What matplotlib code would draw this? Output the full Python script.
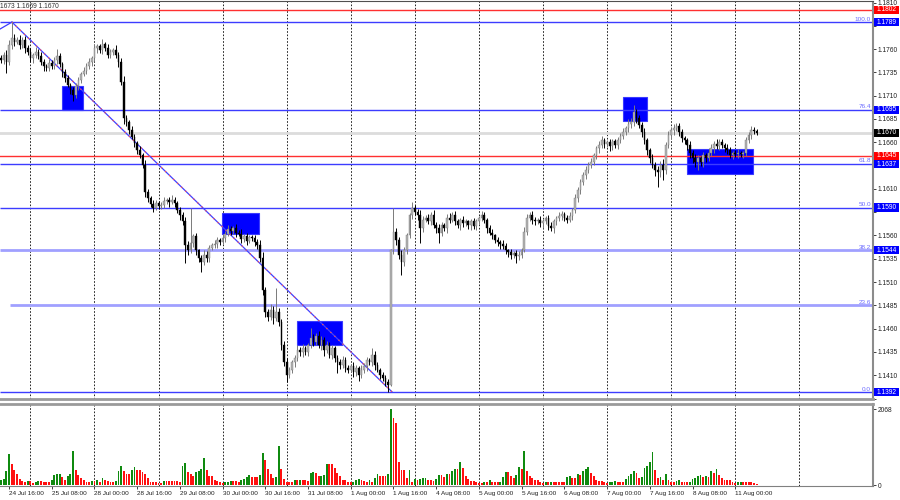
import matplotlib
matplotlib.use("Agg")
import matplotlib.pyplot as plt
import matplotlib.transforms as mtransforms
from matplotlib.patches import Rectangle
import numpy as np

plt.rcParams['font.family'] = ['Liberation Sans', 'DejaVu Sans']

# H1 bars, prices in pips above 1.1000 (24 Jul 13:00 .. 11 Aug 08:00)
first_open_pips = 750
close_pips = [
    748, 754, 746, 764, 772, 768, 770, 764, 770, 761, 757, 750, 754, 757, 753, 746, 742, 740, 745, 742,
    748, 753, 744, 735, 729, 722, 716, 711, 720, 727, 733, 737, 742, 746, 750, 761, 763, 759, 765, 761,
    754, 757, 759, 754, 746, 725, 686, 682, 673, 666, 659, 652, 646, 636, 607, 600, 594, 590, 595, 592,
    593, 597, 598, 596, 598, 595, 587, 582, 575, 550, 544, 552, 559, 544, 536, 531, 539, 536, 547, 550,
    551, 555, 553, 557, 562, 567, 565, 568, 563, 562, 556, 559, 554, 558, 557, 553, 550, 536, 501, 478,
    473, 480, 471, 478, 467, 442, 424, 410, 416, 424, 428, 437, 435, 439, 435, 442, 450, 446, 452, 442,
    448, 437, 442, 432, 439, 428, 424, 421, 426, 418, 416, 420, 413, 418, 410, 416, 420, 426, 424, 432,
    421, 416, 410, 407, 403, 400, 544, 564, 555, 539, 531, 544, 560, 582, 589, 585, 582, 568, 577, 579,
    575, 582, 571, 568, 563, 571, 568, 579, 577, 582, 575, 571, 577, 573, 575, 571, 575, 570, 575, 579,
    582, 577, 568, 563, 560, 555, 553, 551, 549, 544, 542, 539, 541, 538, 539, 544, 564, 579, 582, 577,
    575, 577, 573, 575, 579, 570, 568, 575, 579, 581, 583, 579, 577, 581, 587, 600, 609, 617, 625, 630,
    636, 639, 646, 654, 657, 662, 658, 660, 656, 661, 657, 662, 667, 671, 675, 680, 682, 692, 686, 679,
    671, 662, 652, 643, 636, 630, 628, 636, 630, 657, 668, 673, 675, 677, 671, 665, 662, 657, 649, 643,
    639, 643, 639, 646, 643, 649, 654, 658, 656, 660, 657, 654, 652, 646, 649, 647, 649, 647, 648, 662,
    668, 673, 672, 670,
]
upper_wick = [
    4, 3, 5, 6, 17, 4, 3, 5, 3, 4, 3, 4, 2, 5, 3, 4, 3, 2, 4, 3,
    4, 7, 3, 2, 4, 3, 2, 3, 4, 3, 2, 4, 3, 5, 3, 4, 3, 2, 6, 3,
    4, 3, 2, 5, 3, 4, 6, 3, 2, 4, 3, 2, 4, 3, 5, 3, 2, 4, 3, 2,
    3, 4, 2, 3, 5, 3, 2, 4, 3, 5, 4, 37, 3, 4, 2, 3, 5, 4, 3, 2,
    4, 3, 2, 5, 3, 4, 3, 2, 4, 3, 5, 3, 4, 2, 3, 4, 3, 5, 6, 4,
    3, 6, 4, 26, 4, 3, 5, 4, 3, 2, 4, 5, 3, 4, 2, 3, 11, 4, 3, 5,
    4, 3, 5, 4, 3, 2, 4, 3, 5, 4, 3, 2, 4, 3, 2, 5, 3, 4, 3, 7,
    4, 3, 2, 4, 3, 3, 2, 25, 4, 3, 5, 4, 3, 2, 7, 4, 3, 5, 4, 3,
    4, 3, 5, 3, 4, 3, 2, 4, 5, 3, 4, 3, 2, 4, 3, 2, 3, 4, 3, 2,
    4, 3, 2, 3, 4, 2, 3, 2, 4, 3, 2, 3, 2, 3, 4, 3, 5, 4, 3, 4,
    3, 2, 4, 3, 2, 3, 4, 3, 2, 4, 3, 2, 3, 4, 3, 4, 3, 4, 3, 5,
    3, 4, 3, 2, 4, 5, 3, 2, 4, 3, 2, 4, 3, 4, 3, 5, 4, 8, 4, 3,
    3, 4, 3, 2, 4, 3, 5, 4, 6, 3, 4, 3, 5, 4, 4, 3, 2, 3, 4, 3,
    4, 3, 2, 4, 3, 5, 4, 3, 5, 4, 3, 2, 4, 3, 2, 3, 4, 2, 3, 4,
    3, 4, 3, 2,
]
lower_wick = [
    3, 4, 12, 3, 4, 5, 3, 4, 3, 5, 3, 4, 5, 3, 4, 3, 5, 3, 4, 3,
    3, 4, 3, 5, 4, 3, 4, 7, 3, 4, 3, 2, 4, 3, 4, 3, 5, 3, 4, 3,
    3, 4, 3, 4, 5, 4, 6, 5, 4, 3, 4, 5, 3, 4, 6, 4, 3, 5, 3, 4,
    4, 3, 3, 5, 2, 4, 3, 5, 4, 20, 5, 3, 4, 5, 4, 10, 3, 4, 5, 3,
    3, 4, 3, 2, 4, 3, 4, 3, 5, 3, 4, 3, 4, 2, 3, 4, 5, 4, 5, 6,
    5, 4, 6, 3, 4, 5, 4, 7, 3, 4, 5, 3, 4, 5, 3, 4, 3, 5, 4, 3,
    5, 6, 3, 4, 5, 4, 12, 4, 3, 5, 4, 3, 5, 4, 6, 3, 4, 5, 3, 4,
    5, 3, 4, 3, 5, 8, 2, 4, 5, 4, 13, 4, 4, 3, 4, 3, 5, 16, 4, 3,
    3, 4, 3, 5, 11, 4, 3, 5, 4, 3, 4, 3, 5, 4, 3, 4, 5, 3, 4, 3,
    3, 4, 5, 3, 4, 3, 4, 5, 3, 4, 5, 4, 3, 8, 4, 3, 2, 3, 4, 5,
    4, 3, 4, 5, 3, 4, 3, 5, 4, 3, 4, 3, 4, 3, 4, 3, 4, 5, 3, 4,
    3, 4, 3, 4, 5, 3, 4, 3, 5, 4, 3, 4, 3, 4, 3, 4, 5, 4, 5, 4,
    5, 4, 6, 5, 4, 6, 16, 5, 10, 4, 3, 4, 5, 3, 4, 5, 4, 5, 6, 5,
    5, 9, 4, 5, 4, 3, 4, 5, 3, 4, 3, 4, 5, 3, 4, 3, 4, 3, 4, 3,
    3, 4, 3, 2,
]
volume = [
    155, 182, 391, 865, 573, 428, 300, 182, 118, 91, 118, 118, 64, 82, 118, 118, 82, 82, 82, 155,
    282, 300, 319, 228, 155, 264, 319, 928, 410, 282, 209, 137, 100, 82, 118, 118, 155, 82, 209, 155,
    118, 100, 100, 118, 391, 537, 391, 300, 300, 410, 500, 428, 410, 373, 300, 209, 100, 100, 82, 64,
    64, 118, 118, 118, 118, 118, 118, 100, 537, 610, 355, 300, 264, 355, 391, 455, 755, 410, 264, 264,
    137, 118, 82, 64, 82, 100, 118, 118, 118, 100, 137, 173, 228, 273, 228, 228, 228, 273, 892, 700,
    455, 319, 209, 228, 1065, 455, 182, 82, 82, 82, 137, 137, 155, 137, 137, 118, 337, 373, 337, 246,
    264, 282, 573, 573, 573, 464, 337, 264, 155, 137, 82, 82, 100, 137, 173, 155, 118, 100, 137, 100,
    209, 300, 246, 246, 246, 300, 2066, 1820, 1700, 637, 410, 410, 209, 410, 91, 173, 137, 173, 191, 209,
    155, 137, 118, 173, 273, 273, 228, 319, 300, 391, 455, 455, 628, 482, 246, 173, 118, 118, 91, 64,
    64, 100, 82, 155, 100, 100, 82, 100, 228, 373, 373, 246, 209, 282, 500, 446, 937, 391, 246, 191,
    137, 137, 82, 64, 82, 82, 100, 82, 82, 82, 82, 82, 228, 246, 209, 191, 319, 282, 391, 446,
    500, 337, 246, 155, 118, 118, 82, 64, 82, 100, 118, 100, 100, 100, 173, 246, 300, 391, 337, 209,
    228, 482, 537, 628, 919, 410, 191, 228, 137, 300, 155, 82, 82, 118, 137, 100, 100, 82, 100, 173,
    209, 264, 282, 228, 264, 228, 391, 337, 446, 282, 209, 155, 137, 137, 82, 64, 82, 100, 100, 100,
    100, 100, 64, 27,
]

date_labels = ["24 Jul 16:00", "25 Jul 08:00", "28 Jul 00:00", "28 Jul 16:00", "29 Jul 08:00",
               "30 Jul 00:00", "30 Jul 16:00", "31 Jul 08:00", "1 Aug 00:00", "1 Aug 16:00",
               "4 Aug 08:00", "5 Aug 00:00", "5 Aug 16:00", "6 Aug 08:00", "7 Aug 00:00",
               "7 Aug 16:00", "8 Aug 08:00", "11 Aug 00:00"]
date_label_bars = [3, 19, 35, 51, 67, 83, 99, 115, 131, 147, 163, 179, 195, 211, 227, 243, 259, 275]
day_start_bars = [11, 35, 59, 83, 107, 131, 155, 179, 203, 227, 251, 275, 299]

fib_names = ["100.0", "76.4", "61.8", "50.0", "38.2", "23.6", "0.0"]
fib_prices = [1.1789, 1.1695, 1.1637, 1.1590, 1.1544, 1.1485, 1.1392]
red_levels = [1.1802, 1.1645]
current_price = 1.1670
trend_bars = [4.1, 146.5]
trend_prices = [1.1789, 1.1392]
zone_start = [22.9, 82.9, 111.0, 232.8, 256.8]
zone_end = [30.7, 96.7, 127.9, 241.8, 281.6]
zone_low = [1.1695, 1.15615, 1.1442, 1.1683, 1.1626]
zone_high = [1.1720, 1.1584, 1.1468, 1.17085, 1.16527]

closes = 1.1 + np.array(close_pips) / 10000.0
opens = np.concatenate([[1.1 + first_open_pips / 10000.0], closes[:-1]])
highs = np.maximum(opens, closes) + np.array(upper_wick) / 10000.0
lows = np.minimum(opens, closes) - np.array(lower_wick) / 10000.0
vol = np.array(volume)
n = len(closes)
x = np.arange(n)

W, H = 900, 500
fig = plt.figure(figsize=(9, 5), dpi=100)
ax = fig.add_axes([0, (H - 399) / H, 873 / W, (399 - 1.5) / H])
axv = fig.add_axes([0, (H - 486) / H, 873 / W, (486 - 404) / H])

xlim = (-0.375, 326.6)
for a in (ax, axv):
    a.set_xlim(*xlim)
    a.set_facecolor("white")
    for b in day_start_bars:
        a.axvline(b, color="black", lw=0.6, ls=(0, (2, 2)), zorder=0.5)
    a.spines["left"].set_visible(False)
    a.spines["right"].set_color("#8c8c8c")
    a.spines["right"].set_linewidth(1.5)

ax.set_ylim(1.13845, 1.18111)
ax.spines["top"].set_color("#505050")
ax.spines["bottom"].set_color("#9a9a9a")
ax.spines["bottom"].set_linewidth(2)
axv.spines["top"].set_color("#9a9a9a")
axv.spines["top"].set_linewidth(2)
axv.spines["bottom"].set_color("#808080")

# zones (background)
for s, e, lo, hi in zip(zone_start, zone_end, zone_low, zone_high):
    ax.add_patch(Rectangle((s, lo), e - s, hi - lo, facecolor="#0000ff",
                           edgecolor="#3a3aff", lw=0.8, zorder=1))

# level lines
for name, p in zip(fib_names, fib_prices):
    light = name in ("38.2", "23.6")
    xs = 3.5 if name == "23.6" else xlim[0]
    ax.plot([xs, xlim[1]], [p, p], color="#a0a0ff" if light else "#3c3cff",
            lw=2.0 if light else 1.0, zorder=1.5, solid_capstyle="butt")
    ax.text(325.8, p + 0.00003, name, color="#6a6aff", fontsize=4.6,
            ha="right", va="bottom", zorder=3)
for p in red_levels:
    ax.axhline(p, color="#ff3030", lw=1.0, zorder=1.6)
ax.axhline(current_price, color="#dcdcdc", lw=2.0, zorder=0.8)

# trend line
ax.plot([-0.4, trend_bars[0]], [1.17815, trend_prices[0]], color="#3c3cff", lw=0.9, zorder=1.7)
ax.plot(trend_bars, trend_prices, color="#4040ff", lw=0.9, zorder=1.7)
ax.plot(trend_bars, trend_prices, color="#ff5050", lw=0.9, ls=(0, (1, 3.5)), zorder=1.8)

# candles
bull = closes >= opens
wick_col = np.where(bull, "#7a7a7a", "#000000")
body_col = np.where(bull, "#b4b4b4", "#000000")
ax.vlines(x, lows, highs, colors=wick_col, lw=0.7, zorder=4)
body_h = np.maximum(np.abs(closes - opens), 0.00004)
ax.bar(x, body_h, bottom=np.minimum(opens, closes), width=0.62,
       color=body_col, edgecolor=wick_col, linewidth=0.3, zorder=5)

# price scale (labels hidden under the highlighted price boxes are left blank)
ax.yaxis.tick_right()
ticks = np.round(np.arange(1.1385, 1.18101, 0.0025), 4)
hidden = {1.1785, 1.1635, 1.1585, 1.1385}
ax.set_yticks(ticks)
ax.set_yticklabels(["" if t in hidden else "%.4f" % t for t in ticks])
ax.tick_params(axis="y", length=2, width=0.6, pad=1.5, labelsize=4.8, colors="#202020")
ax.set_xticks([])

boxes = [(1.1802, "#ff0000", 0.0), (1.1789, "#0000ff", 0.0), (1.1695, "#0000ff", 0.0),
         (current_price, "#000000", 0.0), (1.1645, "#ff0000", 0.00006),
         (1.1637, "#0000ff", -0.00006), (1.1590, "#0000ff", 0.0),
         (1.1544, "#0000ff", 0.0), (1.1392, "#0000ff", 0.0)]
trans = mtransforms.blended_transform_factory(ax.transAxes, ax.transData)
box_h = 0.00088
for p, c, nudge in boxes:
    yc = p + nudge
    ax.add_patch(Rectangle((1.0 + 1 / 873, yc - box_h / 2), 25 / 873, box_h,
                           transform=trans, facecolor=c, edgecolor="none",
                           clip_on=False, zorder=9))
    ax.text(1.0 + 3.5 / 873, yc, "%.4f" % p, transform=trans, color="white",
            fontsize=4.8, ha="left", va="center", clip_on=False, zorder=10)

fig.text(0.0, 1 - 7 / H, "1673 1.1669 1.1670", fontsize=4.8, color="#303030",
         ha="left", va="center")

# volumes
prev = np.concatenate([[0], vol[:-1]])
vcol = np.where(vol > prev, "#0f8a0f", "#ff1010")
axv.bar(x, vol, width=0.7, color=vcol, zorder=3)
axv.set_ylim(-14, 2212)
axv.yaxis.tick_right()
axv.set_yticks([0, 2068])
axv.set_yticklabels(["0", "2068"])
axv.tick_params(axis="y", length=2, width=0.6, pad=1.5, labelsize=4.8, colors="#202020")
axv.set_xticks(date_label_bars)
axv.set_xticklabels(date_labels)
axv.tick_params(axis="x", length=2, width=0.6, pad=1.5, labelsize=4.6, colors="#202020")
for lab in axv.get_xticklabels():
    lab.set_horizontalalignment("left")

fig.savefig("out.png", dpi=100, facecolor="white")
